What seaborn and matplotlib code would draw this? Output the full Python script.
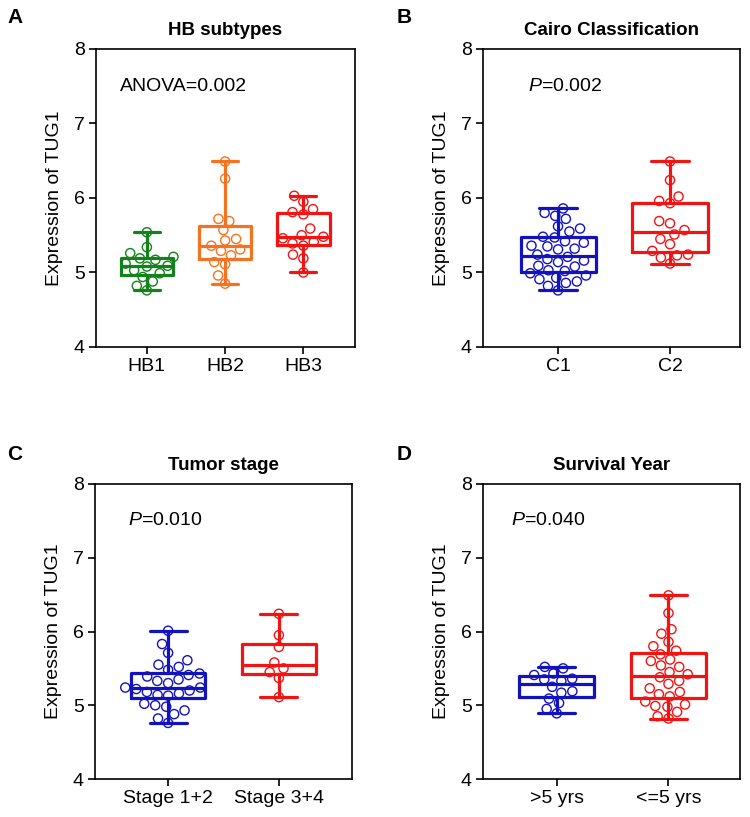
import numpy as np
import pandas as pd
import matplotlib
matplotlib.use("Agg")
import matplotlib.pyplot as plt
import matplotlib.transforms as mtrans
import seaborn as sns

# ---------------- data ----------------
hb_cats = ["HB1", "HB2", "HB3"]
hb1 = [5.54, 5.34, 5.26, 5.21, 5.19, 5.17, 5.09, 5.08, 5.03, 4.99, 4.94, 4.88, 4.82, 4.76, 5.12]
hb2 = [6.49, 6.26, 5.69, 5.72, 5.57, 5.45, 5.43, 5.36, 5.29, 5.31, 5.23, 5.14, 5.11, 4.96, 4.85]
hb3 = [6.03, 5.95, 5.85, 5.81, 5.78, 5.59, 5.50, 5.46, 5.48, 5.41, 5.39, 5.36, 5.24, 5.19, 5.00]

cairo_cats = ["C1", "C2"]
c1 = [5.86, 5.80, 5.76, 5.72, 5.62, 5.59, 5.55, 5.48, 5.47, 5.42, 5.40, 5.36, 5.35, 5.32, 5.31, 5.24,
      5.21, 5.16, 5.18, 5.14, 5.09, 5.08, 5.03, 5.02, 4.99, 4.96, 4.91, 4.93, 4.86, 4.88, 4.82, 4.76]
c2 = [6.49, 6.24, 6.02, 5.96, 5.93, 5.69, 5.66, 5.57, 5.51, 5.45, 5.38, 5.29, 5.23, 5.20, 5.24, 5.12]

stage_cats = ["Stage 1+2", "Stage 3+4"]
stage12 = [6.01, 5.83, 5.71, 5.61, 5.55, 5.52, 5.48, 5.43, 5.39, 5.41, 5.33, 5.35, 5.30, 5.24,
           5.24, 5.22, 5.20, 5.16, 5.18, 5.14, 5.13, 5.02, 5.00, 4.98, 4.93, 4.88, 4.82, 4.76]
stage34 = [6.24, 5.95, 5.79, 5.58, 5.45, 5.50, 5.37, 5.11]

surv_cats = [">5 yrs", "<=5 yrs"]
gt5 = [5.50, 5.52, 5.41, 5.43, 5.35, 5.33, 5.36, 5.25, 5.17, 5.19, 5.09, 5.03, 4.95, 4.89]
le5 = [6.49, 6.25, 5.97, 6.03, 5.86, 5.80, 5.74, 5.69, 5.60, 5.54, 5.52, 5.45, 5.38, 5.29,
       5.23, 5.18, 5.12, 5.01, 4.98, 4.99, 4.91, 4.85, 5.62, 5.33, 5.05, 4.82, 5.42, 5.15]

titles = ["HB subtypes", "Cairo Classification", "Tumor stage", "Survival Year"]
annotations = ["ANOVA=0.002", r"$\it{P}$=0.002", r"$\it{P}$=0.010", r"$\it{P}$=0.040"]
panel_letters = ["A", "B", "C", "D"]
y_ticks = [4, 5, 6, 7, 8]

GREEN = "#13821a"
ORANGE = "#f47321"
RED = "#f21313"
BLUE = "#1212bf"

# ---------------- style ----------------
sns.set_theme(style="ticks")
plt.rcParams['font.family'] = ['Liberation Sans', 'DejaVu Sans']
plt.rcParams['mathtext.fontset'] = 'custom'
plt.rcParams['mathtext.it'] = 'Liberation Sans:italic'
plt.rcParams['mathtext.rm'] = 'Liberation Sans'
plt.rcParams['text.color'] = 'black'
plt.rcParams['axes.labelcolor'] = 'black'
plt.rcParams['xtick.color'] = 'black'
plt.rcParams['ytick.color'] = 'black'

fig = plt.figure(figsize=(7.5, 8.17), dpi=100)
W, H = 750.0, 817.0


def add_ax(left, right, top, bottom):
    return fig.add_axes([left / W, 1 - bottom / H, (right - left) / W, (bottom - top) / H])


def panel(ax, cats, values, colors, title, ann, ann_x, xlim):
    df = pd.DataFrame({
        "group": np.repeat(cats, [len(v) for v in values]),
        "value": np.concatenate(values),
    })
    pal = dict(zip(cats, colors))
    sns.boxplot(data=df, x="group", y="value", hue="group", order=cats, hue_order=cats,
                palette=pal, fill=False, width=0.67, whis=(0, 100), linewidth=2.3,
                showfliers=False, legend=False, ax=ax)
    n0 = len(ax.collections)
    sns.swarmplot(data=df, x="group", y="value", hue="group", order=cats, hue_order=cats,
                  palette=pal, size=6.6, legend=False, ax=ax)
    for coll in ax.collections[n0:]:
        fc = coll.get_facecolors()
        coll.set_edgecolors(fc)
        coll.set_facecolors("none")
        coll.set_linewidths(1.0)
    ax.set_xlim(*xlim)
    ax.set_ylim(4, 8)
    ax.set_yticks(y_ticks)
    ax.set_xlabel("")
    ax.set_ylabel("Expression of TUG1", fontsize=14, color="black", labelpad=8)
    ax.set_title(title, fontsize=13.5, fontweight="bold", pad=10, color="black")
    for sp in ax.spines.values():
        sp.set_visible(True)
        sp.set_color("black")
        sp.set_linewidth(1.2)
    ax.tick_params(axis="both", direction="out", length=5, width=1.2, colors="black",
                   labelsize=14, pad=3)
    trans = mtrans.blended_transform_factory(ax.transAxes, ax.transData)
    ax.text(ann_x, 7.5, ann, transform=trans, fontsize=14, va="center", ha="left", color="black")


axA = add_ax(96, 355, 49, 347)
axB = add_ax(483, 740, 49, 347)
axC = add_ax(95, 352, 484, 779)
axD = add_ax(483, 740, 484, 779)

panel(axA, hb_cats, [hb1, hb2, hb3], [GREEN, ORANGE, RED], titles[0], annotations[0], 0.093, (-0.65, 2.66))
panel(axB, cairo_cats, [c1, c2], [BLUE, RED], titles[1], annotations[1], 0.175, (-0.67, 1.625))
panel(axC, stage_cats, [stage12, stage34], [BLUE, RED], titles[2], annotations[2], 0.13, (-0.66, 1.66))
panel(axD, surv_cats, [gt5, le5], [BLUE, RED], titles[3], annotations[3], 0.11, (-0.66, 1.64))

for letter, (x, y) in zip(panel_letters, [(7, 8), (397, 8), (7, 445), (397, 445)]):
    fig.text(x / W, 1 - y / H, letter, fontsize=15, fontweight="bold", va="top", ha="left",
             color="black")

fig.savefig("out.png", dpi=100, facecolor="white")
